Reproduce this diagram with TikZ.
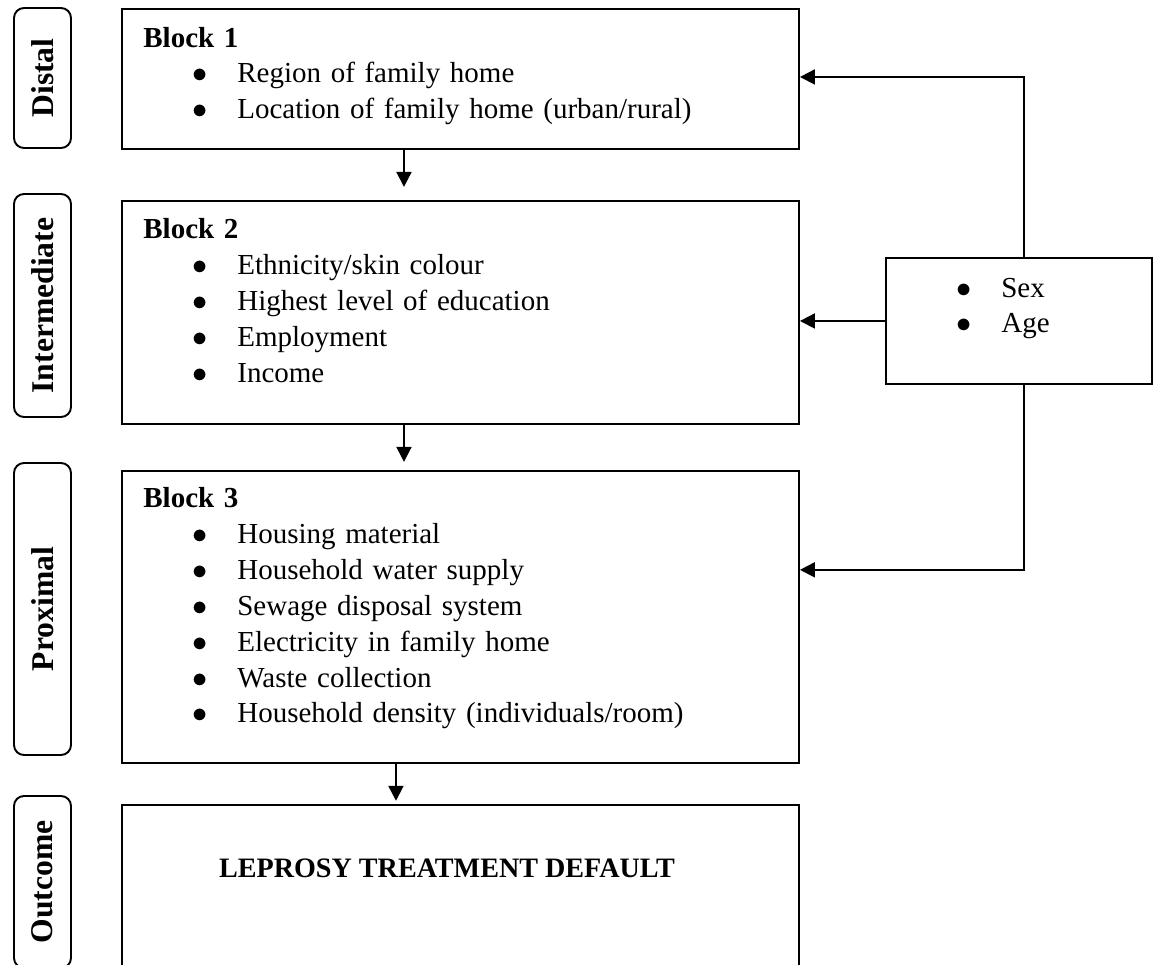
\documentclass[tikz,border=0pt]{standalone}
\usepackage{fontspec}
\setmainfont{Liberation Serif}
\usetikzlibrary{arrows.meta, positioning}
\tikzstyle{block} = [rectangle, minimum width=13.54cm, inner sep=0pt, line width=1.1pt, draw=black]
\tikzstyle{level} = [rectangle, rounded corners=0.2cm, minimum height=1.14cm, rotate=90, text centered, line width=1.1pt, draw=black, font=\fontsize{18}{20}\selectfont\bfseries]
\tikzstyle{items} = [anchor=base west, inner sep=0pt, text width=12cm, align=left, font=\fontsize{16.5}{20.4}\selectfont]
\tikzstyle{arrow} = [line width=1.1pt, -{Triangle[length=0.3cm, width=0.3cm]}]
\newcommand{\bul}{\makebox[0.9cm][l]{$\bullet$}}
\newcommand{\itm}[1]{\\\hspace*{0.98cm}\bul#1}

\begin{document}
\begin{tikzpicture}
\useasboundingbox (0,0) rectangle (23.12,-19.28);
\node (b1) [block, minimum height=2.8cm, anchor=north west] at (2.42,-0.16) {};
\node (b2) [block, minimum height=4.46cm, below=1cm of b1] {};
\node (b3) [block, minimum height=5.84cm, below=0.9cm of b2] {};
\node (b4) [block, minimum height=4cm, below=0.8cm of b3] {};
\node (sa) [block, minimum width=5.32cm, minimum height=2.52cm, anchor=north west] at (17.7,-5.14) {};

\node (t1) [items] at ([shift={(0.44cm,-0.78cm)}]b1.north west) {\textbf{Block 1}\itm{Region of family home}\itm{Location of family home (urban/rural)}};
\node (t2) [items] at ([shift={(0.44cm,-0.78cm)}]b2.north west) {\textbf{Block 2}\itm{Ethnicity/skin colour}\itm{Highest level of education}\itm{Employment}\itm{Income}};
\node (t3) [items] at ([shift={(0.44cm,-0.76cm)}]b3.north west) {\textbf{Block 3}\itm{Housing material}\itm{Household water supply}\itm{Sewage disposal system}\itm{Electricity in family home}\itm{Waste collection}\itm{Household density (individuals/room)}};
\node (t4) [anchor=base, font=\fontsize{16}{19}\selectfont\bfseries] at ([xshift=-0.27cm, yshift=-1.48cm]b4.north) {LEPROSY TREATMENT DEFAULT};
\node (t5) [items, text width=4cm] at ([shift={(1.42cm,-0.8cm)}]sa.north west) {\bul Sex\\\bul Age};

\node (distal) [level, minimum width=2.8cm] at (0.85,-1.56) {Distal};
\node (inter) [level, minimum width=4.46cm] at (0.85,-6.11) {Intermediate};
\node (prox) [level, minimum width=5.84cm] at (0.85,-12.18) {Proximal};
\node (outc) [level, minimum width=3.44cm] at (0.85,-17.64) {Outcome};

\draw [arrow, shorten >=0.26cm] ([xshift=-1.13cm]b1.south) -- ([xshift=-1.13cm]b2.north);
\draw [arrow, shorten >=0.16cm] ([xshift=-1.13cm]b2.south) -- ([xshift=-1.13cm]b3.north);
\draw [arrow, shorten >=0.06cm] ([xshift=-1.29cm]b3.south) -- ([xshift=-1.29cm]b4.north);
\draw [arrow] ([xshift=0.1cm]sa.north) |- ([yshift=0.04cm]b1.east);
\draw [arrow] (sa.west) -- (sa.west -| b2.east);
\draw [arrow] ([xshift=0.1cm]sa.south) |- ([yshift=0.94cm]b3.east);
\end{tikzpicture}
\end{document}
